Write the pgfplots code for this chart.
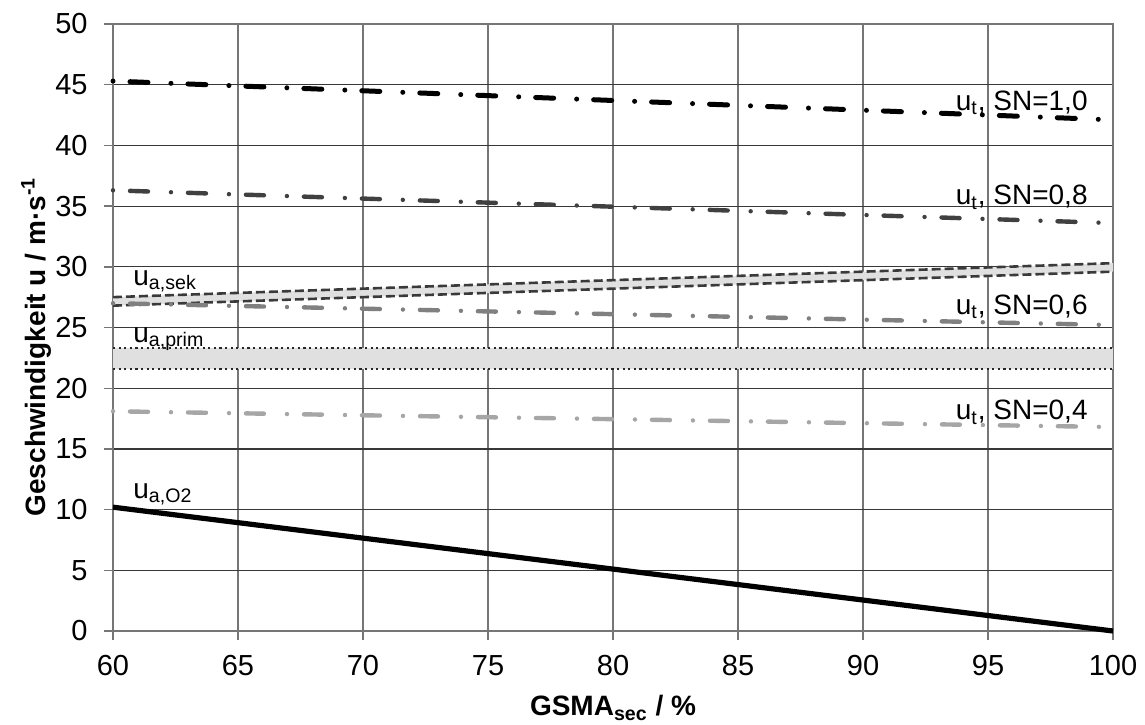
\documentclass[border=0pt]{standalone}
\usepackage{fontspec}
\setmainfont{Liberation Sans}
\usepackage{pgfplots}
\pgfplotsset{compat=1.18}

\definecolor{gridh}{HTML}{383838}
\definecolor{gridv}{HTML}{767676}
\definecolor{snA}{HTML}{000000}
\definecolor{snB}{HTML}{404040}
\definecolor{snC}{HTML}{808080}
\definecolor{snD}{HTML}{A6A6A6}
\definecolor{band}{HTML}{E0E0E0}
\definecolor{sekline}{HTML}{3A3A3A}

\tikzset{
  dashdot/.style={line width=2.2pt, line cap=round,
    dash pattern=on 0pt off 8.5pt on 9pt off 11.5pt},
  lbl/.style={inner sep=0pt, font=\fontsize{14}{16}\selectfont},
}

\begin{document}
\begin{tikzpicture}
\useasboundingbox (0,0) rectangle (572.5pt,362pt);
\begin{axis}[
  at={(56.5pt,46.5pt)}, anchor=south west,
  scale only axis, width=500pt, height=303.5pt,
  xmin=60, xmax=100, ymin=0, ymax=50,
  xtick={60,65,...,100}, ytick={0,5,...,50},
  /pgf/number format/assume math mode=true,
  tick label style={font=\fontsize{14.5}{16}\selectfont},
  xticklabel style={inner sep=0pt, anchor=base, yshift=-17.5pt},
  yticklabel style={inner sep=0pt, anchor=east, xshift=-8pt},
  tick align=outside, xtick pos=bottom, ytick pos=left,
  major tick length=4.5pt,
  tick style={gridv, line width=0.7pt},
  axis line style={gridv, line width=0.7pt},
  grid=major,
  major x grid style={gridv, line width=0.7pt},
  major y grid style={gridh, line width=0.6pt},
  xlabel={GSMA\textsubscript{sec} / \%},
  ylabel={Geschwindigkeit u / m·s\textsuperscript{-1}},
  label style={font=\bfseries\fontsize{14}{16}\selectfont},
  xlabel style={at={(axis description cs:0.5,-0.14)}, anchor=base},
  ylabel style={at={(axis description cs:-0.068,0.468)}, anchor=base},
  clip=false,
]
% secondary air band
\addplot[fill=band, draw=none] coordinates {(60,27.5) (100,30.3) (100,29.6) (60,26.8)} -- cycle;
% primary air band
\addplot[fill=band, draw=none] coordinates {(60,23.3) (100,23.3) (100,21.6) (60,21.6)} -- cycle;

% band edges
\addplot[sekline, line width=1.3pt, dash pattern=on 4.5pt off 2pt] coordinates {(60,27.5) (70,28.2) (80,28.9) (90,29.6) (100,30.3)};
\addplot[sekline, line width=1.3pt, dash pattern=on 4.5pt off 2pt] coordinates {(60,26.8) (70,27.5) (80,28.2) (90,28.9) (100,29.6)};
\addplot[black!85, line width=1.2pt, dash pattern=on 1.1pt off 1.7pt] coordinates {(60,23.3) (100,23.3)};
\addplot[black!85, line width=1.2pt, dash pattern=on 1.1pt off 1.7pt] coordinates {(60,21.6) (100,21.6)};

% terminal velocities
\addplot[snD, dashdot] coordinates {(60,18.1) (70,17.77) (80,17.45) (90,17.12) (100,16.8)};
\addplot[snC, dashdot] coordinates {(60,27.0) (70,26.55) (80,26.1) (90,25.65) (100,25.2)};
\addplot[snB, dashdot] coordinates {(60,36.3) (70,35.62) (80,34.95) (90,34.27) (100,33.6)};
\addplot[snA, dashdot, line width=2.5pt] coordinates {(60,45.3) (70,44.5) (80,43.7) (90,42.9) (100,42.1)};

% oxygen-limited velocity
\addplot[black, line width=2.6pt] coordinates {(60,10.2) (70,7.65) (80,5.1) (90,2.55) (100,0)};

\node[lbl, anchor=base west] at (axis cs:60.8,28.5) {u\textsubscript{a,sek}};
\node[lbl, anchor=base west] at (axis cs:60.8,23.8) {u\textsubscript{a,prim}};
\node[lbl, anchor=base west] at (axis cs:60.8,10.95) {u\textsubscript{a,O2}};
\node[lbl, anchor=base east] at (axis cs:99.0,42.9) {u\textsubscript{t}, SN=1,0};
\node[lbl, anchor=base east] at (axis cs:99.0,35.1) {u\textsubscript{t}, SN=0,8};
\node[lbl, anchor=base east] at (axis cs:99.0,26.1) {u\textsubscript{t}, SN=0,6};
\node[lbl, anchor=base east] at (axis cs:99.0,17.4) {u\textsubscript{t}, SN=0,4};
\end{axis}
\end{tikzpicture}
\end{document}
